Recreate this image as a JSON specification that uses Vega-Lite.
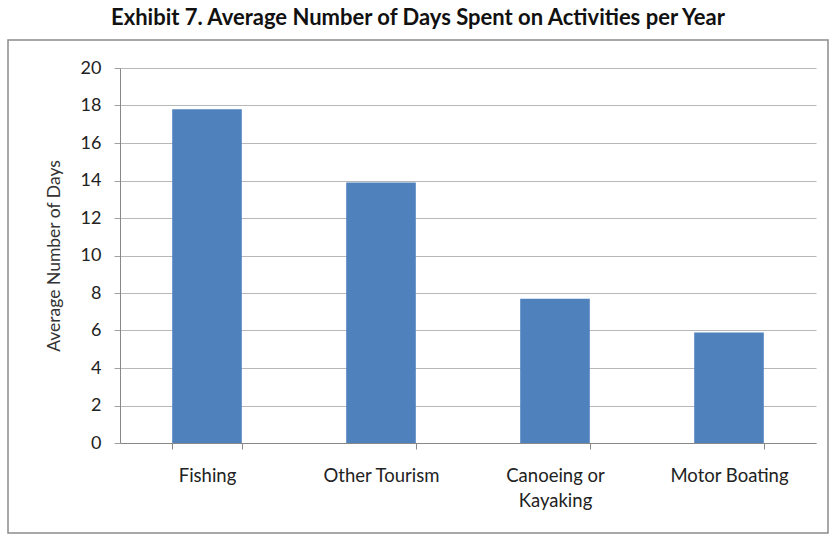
{
  "$schema": "https://vega.github.io/schema/vega-lite/v6.json",
  "width": 820,
  "height": 493,
  "autosize": {"type": "none"},
  "padding": {"left": 8, "top": 40, "right": 3, "bottom": 3},
  "background": "white",
  "title": {
    "text": "Exhibit 7. Average Number of Days Spent on Activities per Year",
    "font": "Lato",
    "fontSize": 22,
    "fontWeight": "bold",
    "color": "#111111",
    "anchor": "middle",
    "offset": 10
  },
  "config": {
    "view": {"stroke": "#8c8c8c", "strokeWidth": 1.5},
    "axis": {"labelFont": "Lato", "titleFont": "Lato"}
  },
  "data": {
    "values": [
      {"activity": "Fishing", "days": 17.8},
      {"activity": "Other Tourism", "days": 13.9},
      {"activity": "Canoeing or Kayaking", "days": 7.7},
      {"activity": "Motor Boating", "days": 5.9}
    ]
  },
  "mark": {"type": "bar", "color": "#4f81bd"},
  "encoding": {
    "x": {
      "field": "activity",
      "type": "nominal",
      "sort": null,
      "scale": {"range": [112, 808], "paddingInner": 0.6, "paddingOuter": 0.3},
      "axis": {
        "title": null,
        "offset": -90,
        "labelAngle": 0,
        "bandPosition": 0,
        "tickBand": "extent",
        "labelFontSize": 18.5,
        "labelColor": "#222222",
        "labelPadding": 17,
        "labelBaseline": "top",
        "labelLineHeight": 25,
        "labelOverlap": false,
        "domainColor": "#888888",
        "tickColor": "#888888",
        "tickSize": 6,
        "labelExpr": "datum.value == 'Canoeing or Kayaking' ? ['Canoeing or', 'Kayaking'] : datum.value"
      }
    },
    "y": {
      "field": "days",
      "type": "quantitative",
      "scale": {"domain": [0, 20], "range": [403, 28], "nice": false},
      "axis": {
        "title": "Average Number of Days",
        "offset": -112,
        "values": [0, 2, 4, 6, 8, 10, 12, 14, 16, 18, 20],
        "labelFontSize": 18,
        "labelColor": "#222222",
        "labelPadding": 13,
        "tickSize": 6,
        "tickColor": "#a0a0a0",
        "domainColor": "#888888",
        "gridColor": "#b8b8b8",
        "titleFontSize": 17.5,
        "titleFontWeight": "normal",
        "titleColor": "#333333",
        "titlePadding": 17
      }
    }
  }
}
